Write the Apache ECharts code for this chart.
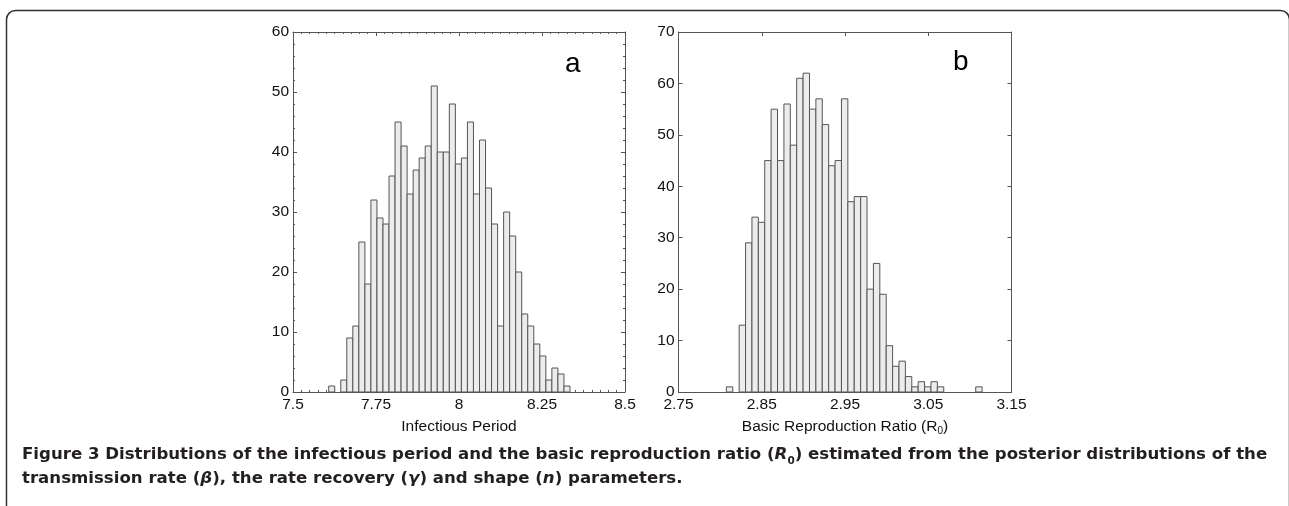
<!DOCTYPE html>
<html>
<head>
<meta charset="utf-8">
<script src="https://cdn.jsdelivr.net/npm/echarts@6/dist/echarts.min.js"></script>
<style>
  html, body { margin: 0; padding: 0; background: #fff; }
  #chart { width: 1289px; height: 506px; }
</style>
</head>
<body>
<div id="chart"></div>
<script>
// panel a: infectious period histogram (40 bins)
const periodStart = 7.6075;
const periodBinWidth = 0.01817;
const periodCounts = [1, 0, 2, 9, 11, 25, 18, 32, 29, 28,
                      36, 45, 41, 33, 37, 39, 41, 51, 40, 40,
                      48, 38, 39, 45, 33, 42, 34, 28, 11, 30,
                      26, 20, 13, 11, 8, 6, 2, 4, 3, 1];
const periodTicks = [7.5, 7.75, 8, 8.25, 8.5];

// panel b: basic reproduction ratio histogram (40 bins)
const r0Start = 2.8075;
const r0BinWidth = 0.00768;
const r0Counts = [1, 0, 13, 29, 34, 33, 45, 55, 45, 56,
                  48, 61, 62, 55, 57, 52, 44, 45, 57, 37,
                  38, 38, 20, 25, 19, 9, 5, 6, 3, 1,
                  2, 1, 2, 1, 0, 0, 0, 0, 0, 1];
const r0Ticks = [2.75, 2.85, 2.95, 3.05, 3.15];

const font = 'Liberation Sans';
const axisColor = '#555';
const labelSize = 15.5;

function toBins(start, w, counts) {
    return counts.map(function (c, i) {
        return [start + w * i, start + w * (i + 1), c];
    });
}

function renderBar(params, api) {
    if (!api.value(2)) {
        return null;
    }
    const topLeft = api.coord([api.value(0), api.value(2)]);
    const bottomRight = api.coord([api.value(1), 0]);
    return {
        type: 'rect',
        shape: {
            x: topLeft[0],
            y: topLeft[1],
            width: bottomRight[0] - topLeft[0],
            height: bottomRight[1] - topLeft[1]
        },
        style: {fill: '#ececec', stroke: '#555', lineWidth: 1}
    };
}

function xAxis(grid, min, max, opts) {
    const base = {
        type: 'value', gridIndex: grid, min: min, max: max,
        axisLine: {show: true, onZero: false, lineStyle: {color: axisColor, width: 1}},
        axisTick: {show: true, inside: true, length: 4, lineStyle: {color: axisColor}},
        axisLabel: {show: false},
        splitLine: {show: false}
    };
    return Object.assign(base, opts);
}

function yAxis(grid, max, opts) {
    const base = {
        type: 'value', gridIndex: grid, min: 0, max: max, interval: 10,
        axisLine: {show: true, onZero: false, lineStyle: {color: axisColor, width: 1}},
        axisTick: {show: true, inside: true, length: 4, lineStyle: {color: axisColor}},
        axisLabel: {show: false},
        splitLine: {show: false}
    };
    return Object.assign(base, opts);
}

const minorA = {show: true, splitNumber: 10, length: 2, lineStyle: {color: axisColor}};
const minorAy = {show: true, splitNumber: 5, length: 2, lineStyle: {color: axisColor}};
const nameStyle = {
    color: '#111', fontFamily: font, fontSize: labelSize, lineHeight: 18,
    rich: {
        n: {color: '#111', fontFamily: font, fontSize: labelSize, lineHeight: 18},
        sub: {color: '#111', fontFamily: font, fontSize: 10, lineHeight: 6, verticalAlign: 'bottom'}
    }
};

const chart = echarts.init(document.getElementById('chart'));

const option = {
    animation: false,
    backgroundColor: '#fff',
    grid: [
        {left: 293, top: 32, width: 332, height: 360},
        {left: 678.5, top: 32, width: 333, height: 360}
    ],
    xAxis: [
        xAxis(0, 7.5, 8.5, {
            interval: 0.25, position: 'bottom',
            minorTick: minorA,
            axisLabel: {show: true, color: '#111', fontFamily: font, fontSize: labelSize, margin: 5,
                        customValues: periodTicks},
            name: 'Infectious Period', nameLocation: 'middle', nameGap: 22,
            nameTextStyle: nameStyle
        }),
        xAxis(0, 7.5, 8.5, {interval: 0.25, position: 'top', minorTick: minorA}),
        xAxis(1, 2.75, 3.15, {
            position: 'bottom',
            axisTick: {show: true, inside: true, length: 4, lineStyle: {color: axisColor},
                       customValues: r0Ticks},
            axisLabel: {show: true, color: '#111', fontFamily: font, fontSize: labelSize, margin: 5,
                        customValues: r0Ticks},
            name: '{n|Basic Reproduction Ratio (R}{sub|0}{n|)}', nameLocation: 'middle', nameGap: 22,
            nameTextStyle: nameStyle
        }),
        xAxis(1, 2.75, 3.15, {
            position: 'top',
            axisTick: {show: true, inside: true, length: 4, lineStyle: {color: axisColor},
                       customValues: r0Ticks}
        })
    ],
    yAxis: [
        yAxis(0, 60, {
            position: 'left', minorTick: minorAy,
            axisLabel: {show: true, color: '#111', fontFamily: font, fontSize: labelSize, margin: 4}
        }),
        yAxis(0, 60, {position: 'right', minorTick: minorAy}),
        yAxis(1, 70, {
            position: 'left',
            axisLabel: {show: true, color: '#111', fontFamily: font, fontSize: labelSize, margin: 4}
        }),
        yAxis(1, 70, {position: 'right'})
    ],
    series: [
        {
            type: 'custom', name: 'Infectious Period',
            xAxisIndex: 0, yAxisIndex: 0,
            renderItem: renderBar,
            encode: {x: [0, 1], y: 2},
            data: toBins(periodStart, periodBinWidth, periodCounts)
        },
        {
            type: 'custom', name: 'R0',
            xAxisIndex: 2, yAxisIndex: 2,
            renderItem: renderBar,
            encode: {x: [0, 1], y: 2},
            data: toBins(r0Start, r0BinWidth, r0Counts)
        }
    ],
    graphic: [
        {
            type: 'rect', silent: true,
            shape: {x: 6.5, y: 10.5, width: 1283, height: 540, r: 9},
            style: {fill: 'none', stroke: '#333', lineWidth: 1.5}
        },
        {
            type: 'text', left: 565, top: 50,
            style: {text: 'a', font: '28px "Liberation Sans"', fill: '#000'}
        },
        {
            type: 'text', left: 953, top: 48,
            style: {text: 'b', font: '28px "Liberation Sans"', fill: '#000'}
        },
        {
            type: 'text', left: 22, top: 446,
            style: {
                text: '{t|Figure 3 Distributions of the infectious period and the basic reproduction ratio (}{i|R}{s|0}{t|) estimated from the posterior distributions of the}\n'
                    + '{t|transmission rate (}{i|β}{t|), the rate recovery (}{i|γ}{t|) and shape (}{i|n}{t|) parameters.}',
                rich: {
                    t: {fontFamily: 'DejaVu Sans', fontWeight: 'bold', fontSize: 16.6, fill: '#231f20', lineHeight: 24},
                    i: {fontFamily: 'DejaVu Sans', fontWeight: 'bold', fontStyle: 'italic', fontSize: 16.6, fill: '#231f20', lineHeight: 24},
                    s: {fontFamily: 'DejaVu Sans', fontWeight: 'bold', fontSize: 10.5, fill: '#231f20', lineHeight: 8, verticalAlign: 'bottom'}
                }
            }
        }
    ]
};

chart.setOption(option);
window.addEventListener('resize', function () {
    chart.resize();
});
</script>
</body>
</html>
